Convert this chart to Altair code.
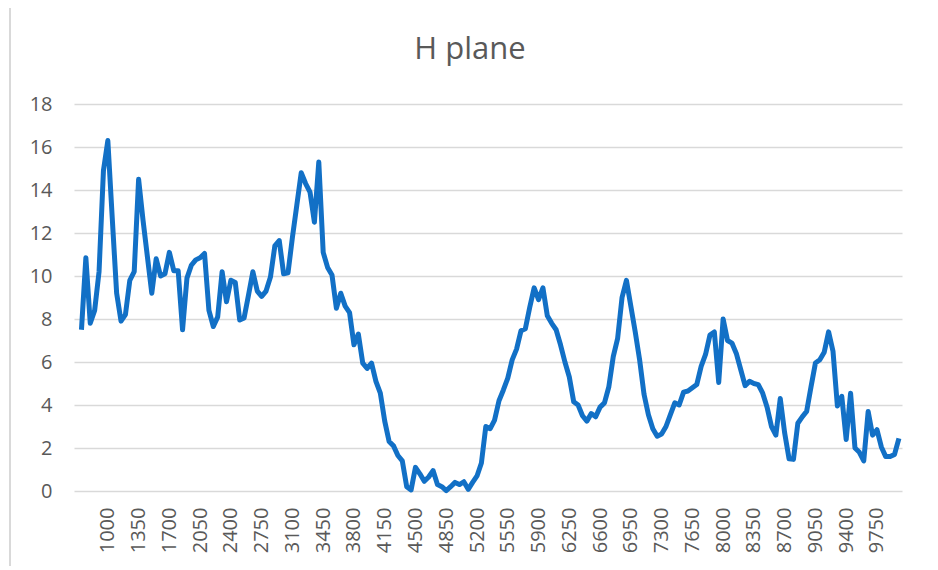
import altair as alt
import pandas as pd

# Categories (frequency) every 50 from 700 to 10000
freq = list(range(700, 10001, 50))

h_plane = [
    7.5, 10.85, 7.8, 8.4, 10.2, 14.9, 16.3, 12.7, 9.2, 7.9,
    8.2, 9.8, 10.2, 14.5, 12.6, 10.9, 9.2, 10.8, 10.0, 10.1,
    11.1, 10.25, 10.25, 7.5, 9.9, 10.5, 10.75, 10.85, 11.05, 8.4,
    7.65, 8.1, 10.2, 8.8, 9.8, 9.7, 7.95, 8.05, 9.1, 10.2,
    9.3, 9.05, 9.3, 9.95, 11.4, 11.65, 10.1, 10.15, 11.8, 13.3,
    14.8, 14.3, 13.9, 12.5, 15.3, 11.1, 10.4, 10.05, 8.5, 9.2,
    8.6, 8.3, 6.8, 7.3, 5.95, 5.7, 5.95, 5.1, 4.55, 3.25,
    2.3, 2.1, 1.65, 1.4, 0.2, 0.05, 1.1, 0.8, 0.45, 0.65,
    0.95, 0.3, 0.2, 0.02, 0.2, 0.4, 0.3, 0.43, 0.08, 0.4,
    0.7, 1.3, 3.0, 2.9, 3.3, 4.2, 4.7, 5.25, 6.1, 6.6,
    7.45, 7.55, 8.55, 9.45, 8.9, 9.45, 8.15, 7.8, 7.5, 6.8,
    6.0, 5.3, 4.15, 4.0, 3.5, 3.25, 3.6, 3.45, 3.9, 4.1,
    4.85, 6.25, 7.1, 9.0, 9.8, 8.6, 7.4, 6.1, 4.5, 3.55,
    2.9, 2.55, 2.65, 3.0, 3.55, 4.1, 4.0, 4.6, 4.65, 4.8,
    4.95, 5.8, 6.35, 7.25, 7.4, 5.05, 8.0, 7.0, 6.88, 6.4,
    5.65, 4.9, 5.1, 5.0, 4.95, 4.55, 3.9, 3.0, 2.6, 4.3,
    2.7, 1.5, 1.47, 3.15, 3.45, 3.7, 4.85, 5.95, 6.1, 6.45,
    7.4, 6.5, 3.95, 4.4, 2.4, 4.55, 2.0, 1.8, 1.4, 3.7,
    2.6, 2.85, 2.05, 1.6, 1.6, 1.7, 2.45,
]

x_ticks = [1000, 1350, 1700, 2050, 2400, 2750, 3100, 3450, 3800, 4150,
           4500, 4850, 5200, 5550, 5900, 6250, 6600, 6950, 7300, 7650,
           8000, 8350, 8700, 9050, 9400, 9750]
y_ticks = [0, 2, 4, 6, 8, 10, 12, 14, 16, 18]

df = pd.DataFrame({"freq": freq, "value": h_plane})

FONT = "Open Sans"
GREY = "#595959"

line = alt.Chart(df).mark_line(
    color="#1270c6", strokeWidth=5, strokeJoin="round", clip=False
).encode(
    x=alt.X("freq:Q",
            scale=alt.Scale(domain=[615, 10035], nice=False, zero=False),
            axis=alt.Axis(values=x_ticks, labelAngle=270, ticks=False, domain=False,
                          grid=False, title=None, labelFont=FONT, labelFontSize=20,
                          labelColor=GREY, labelPadding=16, labelOverlap=False,
                          format="d")),
    y=alt.Y("value:Q",
            scale=alt.Scale(domain=[0, 18], nice=False),
            axis=alt.Axis(values=y_ticks, ticks=False, domain=False, grid=True,
                          gridColor="#d9d9d9", gridWidth=1.4, title=None,
                          labelFont=FONT, labelFontSize=20, labelColor=GREY,
                          labelPadding=22)),
)

# chart-area border (left and right edges)
border_left = alt.Chart(df).mark_rule(color="#d9d9d9", strokeWidth=2, clip=False).encode(
    x=alt.value(-64), y=alt.value(-96), y2=alt.value(470)
)
border_right = alt.Chart(df).mark_rule(color="#d9d9d9", strokeWidth=2, clip=False).encode(
    x=alt.value(858), y=alt.value(-96), y2=alt.value(470)
)

chart = alt.layer(border_left, border_right, line).properties(
    width=828,
    height=387,
    padding={"left": 66, "top": 96, "right": 28, "bottom": 75},
    autosize=alt.AutoSizeParams(type="none"),
    title=alt.TitleParams("H plane", font=FONT, fontSize=31, fontWeight="normal",
                          color=GREY, anchor="middle", dx=-18, offset=-59),
).configure_view(stroke=None)

chart.save("out.html", embed_options={"renderer": "svg", "actions": False})
